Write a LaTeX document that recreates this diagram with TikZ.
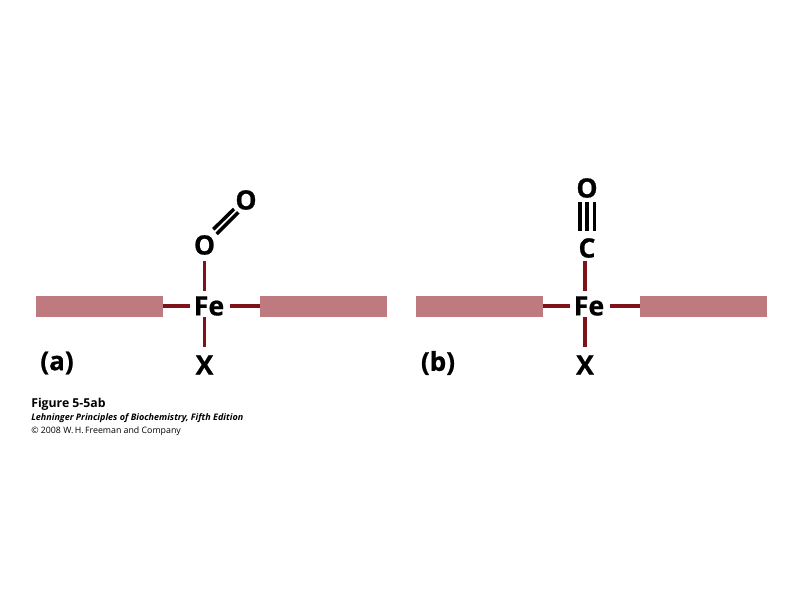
\documentclass[tikz,border=0pt]{standalone}
\usepackage{fontspec}
\setmainfont{Open Sans}
\newfontfamily\heavyfont[FakeBold=0.7]{Open Sans Bold}
\definecolor{barcol}{HTML}{BF7A80}
\definecolor{bondcol}{HTML}{7F1218}
\tikzset{
  x=0.75pt,y=-0.75pt,
  barbox/.style={fill=barcol,draw=none,minimum width=95.25pt,minimum height=16.1pt,inner sep=0pt,outer sep=0pt},
  atom/.style={font=\fontsize{20pt}{22pt}\heavyfont,inner sep=0pt,text=black},
  lab/.style={font=\fontsize{19.5pt}{22pt}\heavyfont,inner sep=0pt,text=black},
  bond/.style={draw=bondcol,line width=2.8pt},
  multi/.style={draw=black,line width=2.6pt},
  captext/.style={anchor=base west,inner sep=0pt,text=black}
}
\begin{document}
\begin{tikzpicture}
\useasboundingbox (0,0) rectangle (800,600);
\fill[white] (0,0) rectangle (800,600);
% panel a
\node[barbox] (aL) at (99.5,306.25) {};
\node[barbox] (aR) at (323.5,306.25) {};
\node[atom] (aFe) at (209,306) {Fe};
\node[atom] (aO1) at (204.5,245) {O};
\node[atom] (aO2) at (246,200) {O};
\node[atom] (aX) at (204.5,365) {X};
\draw[bond] (aL.east |- aFe.west) -- ([xshift=-2.5pt]aFe.west);
\draw[bond] (aR.west |- aFe.east) -- ([xshift=4.5pt]aFe.east);
\coordinate (aOb) at (204.5,261);
\coordinate (aFt) at (204.5,291);
\coordinate (aFb) at (204.5,317);
\coordinate (aXt) at (204.5,347);
\draw[bond] (aOb) -- (aFt);
\draw[bond] (aFb) -- (aXt);
\coordinate (aD1) at (213.3,229.3);
\coordinate (aD2) at (234,209);
\coordinate (aD3) at (216.7,234);
\coordinate (aD4) at (238.3,212.3);
\draw[multi] (aD1) -- (aD2);
\draw[multi] (aD3) -- (aD4);
\node[lab] (aLab) at (57,363) {(a)};
% panel b
\node[barbox] (bL) at (479.5,306.25) {};
\node[barbox] (bR) at (703.5,306.25) {};
\node[atom] (bFe) at (589,306) {Fe};
\node[atom] (bC) at (587,248) {C};
\node[atom] (bO) at (587,188) {O};
\node[atom] (bX) at (585,365) {X};
\draw[bond] (bL.east |- bFe.west) -- ([xshift=-2.5pt]bFe.west);
\draw[bond] (bR.west |- bFe.east) -- ([xshift=4.5pt]bFe.east);
\coordinate (bCb) at (585,261);
\coordinate (bFt) at (585,291);
\coordinate (bFb) at (585,317);
\coordinate (bXt) at (585,347);
\draw[bond] (bCb) -- (bFt);
\draw[bond] (bFb) -- (bXt);
\foreach \xx in {580,587,594.3}{
  \coordinate (bT) at (\xx,202.3);
  \coordinate (bU) at (\xx,230.7);
  \draw[multi] (bT) -- (bU);
}
\node[lab] (bLab) at (438,363) {(b)};
% caption
\node[captext,font=\fontsize{9.2pt}{11pt}\selectfont\bfseries] (c1) at (31,407.5) {Figure 5-5ab};
\node[captext,font=\fontsize{6.76pt}{9pt}\selectfont\bfseries\itshape] (c2) at (31,420.5) {Lehninger Principles of Biochemistry, Fifth Edition};
\node[captext,font=\fontsize{6.6pt}{9pt}\selectfont] (c3) at (31,433) {© 2008 W.\,H.\,Freeman and Company};
\end{tikzpicture}
\end{document}
